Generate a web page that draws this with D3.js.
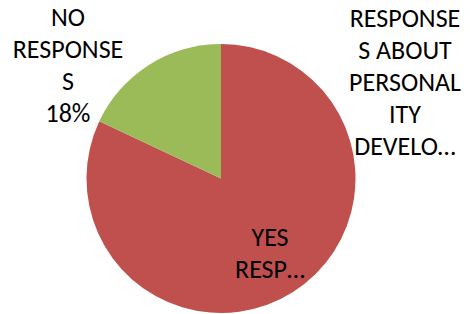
<!DOCTYPE html>
<html>
<head>
<meta charset="utf-8">
<script src="https://cdn.jsdelivr.net/npm/d3@7"></script>
<style>
  body { margin: 0; background: #fff; }
  text { font-family: Carlito, Lato, "Open Sans", sans-serif; fill: #000; }
</style>
</head>
<body>
<script>
var categories = ["YES RESPONSE", "NO RESPONSES"];
var values = [82, 18];
var colors = ["#c0504d", "#9bbb59"];

// wrapped text as shown in the picture
var titleLines = ["RESPONSE", "S ABOUT", "PERSONAL", "ITY", "DEVELO\u2026"];
var labelLines = [["YES", "RESP\u2026"], ["NO", "RESPONSE", "S", "18%"]];

var width = 470, height = 314;
var cx = 221, cy = 178.5, r = 134.5;
var fontSize = 26, lineH = 32;

var svg = d3.select("body").append("svg")
  .attr("width", width)
  .attr("height", height);

var pie = d3.pie().sort(null).value(function(d) { return d; });
var arc = d3.arc().innerRadius(0).outerRadius(r);

var g = svg.append("g").attr("transform", "translate(" + cx + "," + cy + ")");
g.selectAll("path")
  .data(pie(values))
  .enter()
  .append("path")
  .attr("d", arc)
  .style("fill", function(d, i) { return colors[i]; });

// label anchor points (x center, first baseline)
var labelPos = [[270, 246], [68, 26]];

function block(lines, x, y) {
  var t = svg.append("text")
    .attr("text-anchor", "middle")
    .attr("font-size", fontSize);
  t.selectAll("tspan")
    .data(lines)
    .enter()
    .append("tspan")
    .attr("x", x)
    .attr("y", function(d, i) { return y + i * lineH; })
    .text(function(d) { return d; });
}

labelLines.forEach(function(lines, i) {
  block(lines, labelPos[i][0], labelPos[i][1]);
});
block(titleLines, 405, 27);
</script>
</body>
</html>
